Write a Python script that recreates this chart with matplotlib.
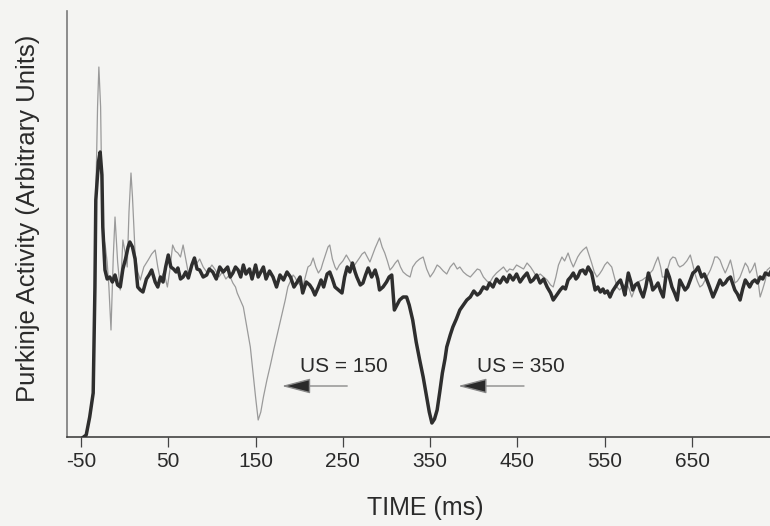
import matplotlib
matplotlib.use("Agg")
import matplotlib.pyplot as plt

plt.rcParams['font.family'] = ['Liberation Sans', 'DejaVu Sans']

# ---- data (time in ms, activity in arbitrary units) ----
t_us350 = [-47, -44, -40, -36, -34, -33, -30, -28, -26, -25, -22.5, -20, -17, -14, -11, -8, -5, -2, 1, 4,
           6, 9, 12, 15, 18, 21, 25, 28, 31, 35, 38, 41, 44, 47, 50, 53, 56, 59, 61, 64,
           67, 70, 73, 77, 80, 83, 86, 90, 94, 97, 101, 105, 109, 113, 118, 121, 124, 127, 130, 133,
           136, 139, 143, 146, 150, 153, 156, 159, 162, 166, 170, 174, 178, 182, 186, 190, 194, 197, 201, 204,
           208, 212, 215, 218, 222, 225, 228, 232, 235, 238, 241, 245, 249, 252, 255, 258, 261, 264, 266, 270,
           273, 276, 279, 283, 287, 290, 292, 296, 300, 303, 306, 309, 312, 315, 319, 323, 326, 330, 334, 338,
           342, 346, 349, 352, 355, 358, 361, 364, 367, 369, 373, 376, 380, 384, 388, 392, 396, 400, 404, 407,
           411, 415, 418, 422, 426, 430, 434, 438, 441, 445, 449, 453, 457, 461, 465, 468, 472, 476, 480, 484,
           488, 491, 495, 499, 502, 505, 508, 511, 514, 517, 519, 522, 525, 528, 531, 535, 539, 542, 545, 548,
           550, 553, 556, 559, 562, 565, 568, 571, 573, 577, 580, 582, 585, 588, 591, 594, 597, 600, 603, 605,
           608, 611, 614, 617, 621, 624, 627, 630, 633, 636, 639, 642, 645, 648, 651, 654, 657, 661, 664, 667,
           670, 674, 678, 682, 685, 688, 691, 694, 697, 699, 702, 705, 708, 711, 714, 716, 719, 722, 725, 728,
           731, 734, 738, 740]
a_us350 = [0, 2, 20, 44, 150, 237, 275, 285, 262, 210, 167, 158, 160, 155, 162, 152, 150, 168, 178, 190,
           195, 190, 178, 150, 147, 145, 158, 162, 167, 155, 150, 160, 155, 170, 182, 170, 168, 165, 169, 158,
           160, 165, 159, 172, 179, 168, 167, 160, 162, 168, 165, 158, 170, 165, 170, 160, 164, 170, 167, 160,
           172, 163, 168, 158, 172, 160, 165, 170, 158, 166, 160, 150, 162, 157, 165, 160, 150, 154, 160, 144,
           155, 152, 148, 142, 150, 157, 150, 163, 165, 158, 150, 147, 144, 160, 170, 165, 174, 165, 160, 152,
           154, 162, 169, 160, 167, 158, 147, 150, 155, 160, 162, 127, 132, 137, 140, 140, 132, 117, 95, 77,
           60, 40, 25, 14, 18, 27, 45, 64, 78, 90, 102, 110, 118, 127, 132, 137, 140, 146, 142, 144,
           150, 148, 154, 150, 158, 154, 160, 155, 162, 157, 163, 155, 160, 164, 155, 157, 162, 154, 158, 150,
           144, 137, 142, 147, 150, 148, 157, 160, 164, 158, 160, 166, 167, 163, 170, 164, 147, 150, 145, 148,
           144, 146, 140, 146, 150, 154, 157, 149, 142, 164, 155, 147, 152, 154, 146, 140, 150, 164, 155, 147,
           150, 154, 146, 140, 167, 160, 150, 144, 137, 157, 152, 147, 150, 157, 164, 166, 170, 160, 163, 157,
           150, 140, 148, 157, 152, 154, 158, 160, 152, 147, 143, 137, 148, 157, 153, 150, 155, 157, 154, 160,
           158, 164, 162, 165]

t_us150 = [-47, -44, -40, -36, -34, -33, -31, -29.5, -27.5, -26, -24, -22, -20, -18, -15.6, -13, -11, -8, -5, -3.5,
           -2, 0.5, 3, 5, 7.3, 9, 12, 15, 18, 22, 27, 31, 35, 38, 41, 45, 49, 52, 55, 58,
           61, 64, 67, 70, 73, 76, 79, 83, 86, 90, 94, 97, 100, 104, 108, 112, 116, 120, 124, 127,
           129, 132, 136, 139, 142, 144, 147, 150, 153, 156, 159, 163, 167, 171, 176, 180, 184, 187, 190, 193,
           195, 198, 201, 204, 207, 210, 213, 216, 219, 222, 225, 227, 230, 233, 235, 238, 241, 243, 246, 250,
           254, 258, 262, 265, 269, 272, 275, 278, 281, 284, 287, 290, 292, 295, 298, 301, 304, 307, 310, 313,
           316, 319, 323, 327, 330, 334, 338, 342, 346, 350, 354, 358, 361, 365, 369, 373, 377, 381, 384, 388,
           392, 396, 400, 404, 407, 411, 415, 418, 422, 426, 430, 434, 438, 441, 445, 449, 453, 457, 461, 465,
           468, 472, 476, 480, 484, 488, 491, 494, 497, 501, 504, 508, 511, 514, 517, 519, 522, 525, 529, 532,
           535, 538, 541, 544, 547, 550, 553, 556, 558, 561, 564, 567, 570, 573, 575, 578, 581, 584, 587, 590,
           593, 596, 598, 602, 605, 608, 611, 614, 616, 619, 622, 625, 628, 631, 634, 636, 640, 644, 648, 651,
           653, 656, 659, 662, 665, 668, 671, 674, 676, 679, 682, 685, 688, 691, 694, 697, 699, 702, 705, 708,
           711, 714, 716, 719, 722, 725, 728, 731, 734, 736, 740]
a_us150 = [0, 2, 20, 44, 160, 240, 330, 370, 330, 237, 200, 190, 175, 150, 107, 180, 220, 175, 147, 170,
           197, 185, 170, 225, 264, 240, 184, 165, 157, 170, 177, 183, 187, 170, 157, 165, 150, 168, 192, 186,
           184, 180, 192, 178, 164, 170, 175, 174, 178, 170, 165, 168, 172, 167, 160, 165, 158, 162, 154, 150,
           144, 138, 130, 115, 100, 90, 65, 40, 17, 25, 40, 57, 72, 88, 107, 122, 137, 150, 156, 162,
           160, 155, 152, 150, 160, 170, 172, 179, 170, 164, 168, 174, 182, 190, 192, 178, 170, 167, 172, 176,
           182, 176, 170, 174, 179, 183, 185, 180, 175, 182, 189, 195, 199, 190, 184, 176, 167, 170, 174, 177,
           170, 165, 162, 160, 170, 175, 178, 180, 168, 160, 165, 172, 170, 166, 163, 170, 174, 168, 170, 165,
           162, 160, 164, 168, 167, 160, 156, 154, 160, 164, 167, 170, 165, 168, 167, 172, 170, 168, 174, 170,
           166, 160, 163, 160, 157, 152, 150, 160, 172, 180, 176, 184, 176, 170, 176, 180, 184, 187, 190, 182,
           174, 165, 160, 163, 167, 172, 175, 172, 170, 160, 150, 147, 150, 152, 154, 148, 140, 147, 154, 156,
           157, 159, 160, 164, 167, 174, 180, 170, 160, 160, 168, 177, 180, 179, 172, 170, 172, 176, 182, 172,
           164, 156, 150, 152, 157, 162, 167, 174, 180, 180, 177, 170, 164, 170, 177, 166, 154, 156, 160, 167,
           174, 170, 164, 168, 174, 160, 140, 148, 157, 167, 170]

x_ticks = [-50, 50, 150, 250, 350, 450, 550, 650]
us_labels = ["US = 150", "US = 350"]
us_times = [150, 350]

bg = '#f4f4f2'
fig = plt.figure(figsize=(7.7, 5.26), dpi=100, facecolor=bg)
ax = fig.add_axes([67/770, 1-437/526, 703/770, 426/526], facecolor=bg)

ax.plot(t_us150, a_us150, color='#9a9a9a', lw=0.9, zorder=2)
ax.plot(t_us350, a_us350, color='#2e2e2e', lw=2.5, zorder=3, solid_joinstyle='round')

# annotations
text_x = [201, 403.6]
arrow_tail = [255, 457.5]
arrow_tip = [180, 382]
for lab, tx, tail, tip in zip(us_labels, text_x, arrow_tail, arrow_tip):
    ax.text(tx, 71, lab, fontsize=15, color='#2a2a2a', ha='left', va='center')
    ax.annotate('', xy=(tip, 51), xytext=(tail, 51),
                arrowprops=dict(arrowstyle='-|>,head_length=1.8,head_width=0.47',
                                mutation_scale=10, fc='#2a2a2a', ec='#8a8a8a', lw=1,
                                shrinkA=0, shrinkB=0))

ax.set_xlim(-66, 739.3)
ax.set_ylim(0, 426)
ax.set_xticks(x_ticks)
ax.set_xticklabels([str(v) for v in x_ticks])
ax.set_yticks([])
for s in ['top', 'right']:
    ax.spines[s].set_visible(False)
ax.spines['left'].set_color('#7a7a7a')
ax.spines['left'].set_linewidth(1.2)
ax.spines['bottom'].set_color('#333333')
ax.spines['bottom'].set_linewidth(1.1)
ax.tick_params(axis='x', direction='out', length=7, width=0.9, color='#444444',
               labelsize=15, labelcolor='#2a2a2a', pad=4)

ax.set_xlabel('TIME (ms)', fontsize=18, color='#2a2a2a', va='top', ha='center')
ax.xaxis.set_label_coords((425-67)/703, (437-496)/426)
ax.set_ylabel('Purkinje Activity (Arbitrary Units)', fontsize=18.5, color='#2a2a2a',
              va='center', ha='center')
ax.yaxis.set_label_coords((28-67)/703, (437-218)/426)

fig.savefig('out.png', dpi=100, facecolor=bg)
